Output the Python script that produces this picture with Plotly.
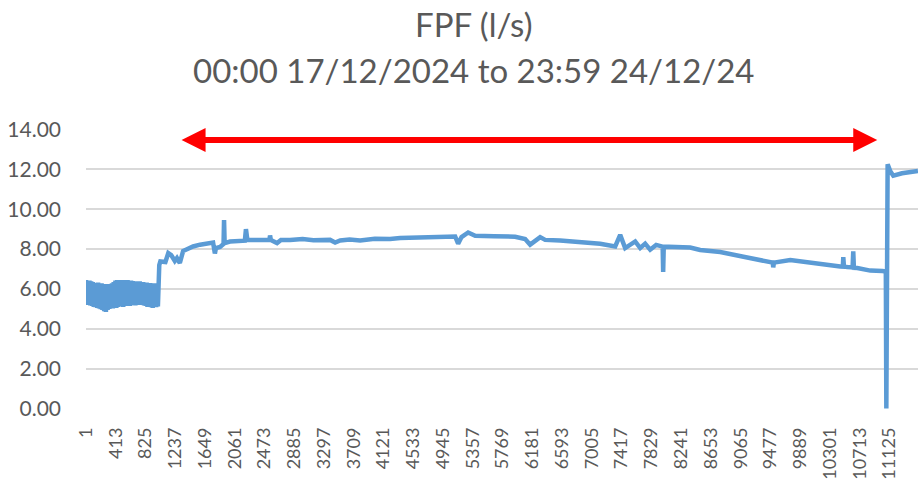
import plotly.graph_objects as go

# ---- data (sample index, flow l/s) ----
noise_idx = [1, 12, 24, 36, 48, 60, 72, 84, 96, 108, 120, 132, 144, 156, 168, 180, 192, 204,
             216, 228, 240, 252, 264, 276, 288, 300, 312, 324, 336, 348, 360, 372, 384, 396,
             408, 420, 432, 444, 456, 468, 480, 492, 504, 516, 528, 540, 552, 564, 576, 588,
             600, 612, 624, 636, 648, 660, 672, 684, 696, 708, 720, 732, 744, 756, 768, 780,
             792, 804, 816, 828, 840, 852, 864, 876, 888, 900, 912, 924, 936, 948, 960, 972,
             984, 996]
noise_val = [6.45, 5.20, 6.40, 5.25, 6.42, 5.18, 6.38, 5.15, 6.35, 5.10,
             6.30, 5.08, 6.28, 5.05, 6.32, 5.02, 6.25, 4.98, 6.28, 4.95,
             6.22, 4.88, 6.25, 4.85, 6.20, 4.95, 6.25, 5.00, 6.22, 5.05,
             6.28, 5.02, 6.35, 5.08, 6.42, 5.05, 6.45, 5.10, 6.40, 5.12,
             6.45, 5.15, 6.42, 5.10, 6.45, 5.18, 6.40, 5.15, 6.45, 5.20,
             6.38, 5.15, 6.42, 5.20, 6.40, 5.22, 6.35, 5.18, 6.38, 5.20,
             6.35, 5.25, 6.38, 5.20, 6.32, 5.22, 6.35, 5.18, 6.30, 5.15,
             6.32, 5.10, 6.28, 5.12, 6.30, 5.08, 6.28, 5.05, 6.25, 5.10,
             6.28, 5.08, 6.25, 5.12]

main_idx = [1015, 1030, 1100, 1140, 1180, 1230, 1260, 1300, 1345, 1420, 1483, 1580, 1677,
            1760, 1785, 1800, 1857, 1905, 1912, 1920, 1995, 2134, 2200, 2215, 2235, 2400,
            2540, 2549, 2560, 2646, 2700, 2826, 3000, 3150, 3380, 3450, 3520, 3650, 3796,
            4000, 4211, 4350, 4600, 4904, 5042, 5112, 5153, 5200, 5292, 5389, 5650, 5943,
            6081, 6150, 6289, 6358, 6566, 6800, 7120, 7328, 7397, 7466, 7605, 7674, 7743,
            7812, 7895, 7985, 7992, 8000, 8366, 8505, 8782, 9059, 9300, 9510, 9516, 9525,
            9752, 10028, 10444, 10480, 10486, 10495, 10541, 10615, 10624, 10633, 10680,
            10860, 11027, 11075, 11082, 11090, 11100, 11137, 11178, 11300, 11520]
main_val = [7.20, 7.38, 7.35, 7.80, 7.70, 7.40, 7.55, 7.30, 7.90, 8.05, 8.13, 8.22, 8.27,
            8.33, 7.78, 8.05, 8.10, 8.25, 9.45, 8.30, 8.38, 8.42, 8.42, 9.00, 8.45, 8.45,
            8.45, 8.68, 8.45, 8.30, 8.45, 8.46, 8.50, 8.44, 8.46, 8.33, 8.43, 8.48, 8.43,
            8.52, 8.50, 8.55, 8.58, 8.60, 8.67, 8.63, 8.27, 8.60, 8.83, 8.67, 8.64, 8.62,
            8.50, 8.22, 8.60, 8.46, 8.43, 8.38, 8.27, 8.13, 8.71, 8.05, 8.38, 8.05, 8.27,
            7.97, 8.21, 8.12, 6.85, 8.12, 8.08, 7.95, 7.85, 7.63, 7.45, 7.32, 7.08, 7.32,
            7.45, 7.30, 7.13, 7.12, 7.60, 7.12, 7.10, 7.08, 7.88, 7.06, 7.05, 6.92, 6.90,
            6.88, 0.00, 12.20, 12.25, 11.90, 11.68, 11.80, 11.92]

idx = noise_idx + main_idx
flow = noise_val + main_val

x_tick_labels = ["1", "413", "825", "1237", "1649", "2061", "2473", "2885", "3297", "3709",
                 "4121", "4533", "4945", "5357", "5769", "6181", "6593", "7005", "7417",
                 "7829", "8241", "8653", "9065", "9477", "9889", "10301", "10713", "11125"]
y_tick_values = [0, 2, 4, 6, 8, 10, 12, 14]

# highlighted period (arrow) in sample indices and level
arrow_from = 1303
arrow_to = 10956
arrow_level = 13.47

title_line1 = "FPF (l/s)"
title_line2 = "00:00 17/12/2024 to 23:59 24/12/24"

FONT = "Lato"
GREY = "#595959"

fig = go.Figure()
fig.add_trace(go.Scatter(
    x=idx, y=flow, mode="lines",
    line=dict(color="#5B9BD5", width=4.5),
    hoverinfo="skip", showlegend=False,
))

fig.add_annotation(
    x=arrow_to, y=arrow_level, ax=arrow_from, ay=arrow_level,
    xref="x", yref="y", axref="x", ayref="y",
    text="", showarrow=True, arrowside="end+start",
    arrowhead=2, startarrowhead=2, arrowsize=0.8, startarrowsize=0.8,
    arrowwidth=6, arrowcolor="#FF0000", standoff=0, startstandoff=0,
)

# two-line chart title
fig.add_annotation(text=title_line1, xref="paper", yref="paper", x=0.466, y=1.376,
                   xanchor="center", yanchor="middle", showarrow=False,
                   font=dict(family=FONT, size=33, color=GREY))
fig.add_annotation(text=title_line2, xref="paper", yref="paper", x=0.466, y=1.21,
                   xanchor="center", yanchor="middle", showarrow=False,
                   font=dict(family=FONT, size=33, color=GREY))

fig.update_layout(
    width=918, height=483,
    margin=dict(l=86, r=0, t=129, b=74),
    paper_bgcolor="white", plot_bgcolor="white",
    font=dict(family=FONT, color=GREY),
    showlegend=False,
)
fig.update_xaxes(
    range=[0.5, 11520.5], tickmode="array",
    tickvals=[int(t) for t in x_tick_labels], ticktext=x_tick_labels,
    tickangle=-90, tickfont=dict(family=FONT, size=18, color=GREY),
    showgrid=False, zeroline=False, showline=False, ticks="",
    ticklabelstandoff=14, automargin=False,
)
fig.update_yaxes(
    range=[-0.02, 14.02], tickmode="array", tickvals=y_tick_values,
    ticktext=[f"{v:.2f}" for v in y_tick_values],
    tickfont=dict(family=FONT, size=21, color=GREY),
    showgrid=True, gridcolor="#D9D9D9", gridwidth=2,
    zeroline=False, showline=False, ticks="",
    ticklabelstandoff=24, automargin=False,
)

fig.write_html("out.html", config={"displayModeBar": False},
               post_script="document.body.style.margin='0';")
